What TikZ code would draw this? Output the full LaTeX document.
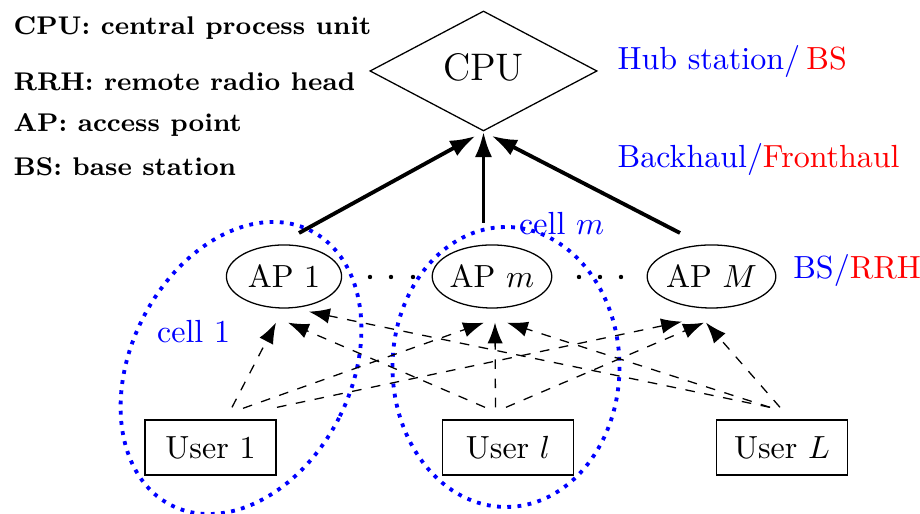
\documentclass[tikz,border=0pt]{standalone}
\usepackage{fontspec}
\usetikzlibrary{shapes.geometric,arrows.meta}
\begin{document}
\begin{tikzpicture}[x=0.3125pt,y=-0.3125pt,
  apnode/.style={draw,ellipse,minimum width=36pt,minimum height=19.7pt,inner sep=0pt},
  usernode/.style={draw,rectangle,minimum width=41pt,minimum height=17.2pt,inner sep=0pt},
  cpunode/.style={draw,diamond,aspect=1.9,minimum width=71pt,minimum height=37.5pt,inner sep=0pt,text depth=2.6pt},
  thickarrow/.style={very thick,-{Latex[length=8pt,width=5.4pt]}},
  dasharrow/.style={dashed,-{Latex[length=6.5pt,width=4.8pt]}},
  cellring/.style={blue,very thick,dotted},
  lbl/.style={inner sep=0pt,anchor=base west},
  legend/.style={inner sep=0pt,anchor=base west,font=\fontsize{8}{10}\selectfont\bfseries},
  dotmark/.style={fill=black}
]
\useasboundingbox (0,0) rectangle (920,514);

% legend
\node[legend] (lg1) at (13,35) {CPU: central process unit};
\node[legend] (lg2) at (13,91) {RRH: remote radio head};
\node[legend] (lg3) at (13,132) {AP: access point};
\node[legend] (lg4) at (13,176) {BS: base station};

% cells
\draw[cellring,rotate around={-27:(241,368)}] (241,368) ellipse [x radius=110,y radius=154];
\draw[cellring] (506,367) ellipse [x radius=113.5,y radius=140];

% nodes
\node[cpunode] (cpu) at (483.5,71) {\large CPU};
\node[apnode] (ap1) at (284,276.5) {AP 1};
\node[apnode] (apm) at (492,276.5) {AP $m$};
\node[apnode] (apM) at (711.5,276.5) {AP $M$};
\node[usernode] (u1) at (210.5,447.5) {User 1};
\node[usernode] (ul) at (508,447.5) {User $l$};
\node[usernode] (uL) at (782,447.5) {User $L$};

% dots
\fill[dotmark] (370,277) circle (2.2);
\fill[dotmark] (391,277) circle (2.2);
\fill[dotmark] (413,277) circle (2.2);
\fill[dotmark] (579,277) circle (2.2);
\fill[dotmark] (600,277) circle (2.2);
\fill[dotmark] (621,277) circle (2.2);

% labels
\node[lbl,blue] (cell1) at (156.5,343) {cell 1};
\node[lbl,blue] (cellm) at (518.6,234.3) {cell $m$};
\node[lbl] (hub) at (617,69.3) {\textcolor{blue}{Hub station/}\kern2pt\textcolor{red}{BS}};
\node[lbl] (bh) at (617,167.3) {\textcolor{blue}{Backhaul/}\textcolor{red}{Fronthaul}};
\node[lbl] (bsrrh) at (792.7,278.3) {\textcolor{blue}{BS/}\textcolor{red}{RRH}};

% backhaul arrows
\coordinate (t1) at (299,233);
\coordinate (tm) at (483.5,223);
\coordinate (tM) at (680,233);
\draw[thickarrow,shorten >=2.8pt] (t1) -- (cpu.south);
\draw[thickarrow] (tm) -- (cpu.south);
\draw[thickarrow,shorten >=2.8pt] (tM) -- (cpu.south);

% access links
\draw[dasharrow] ([shift={(21.5,-12)}]u1.north) -- ([shift={(-8,14)}]ap1.south);
\draw[dasharrow] ([shift={(32.5,-11)}]u1.north) -- ([shift={(-8,14)}]apm.south);
\draw[dasharrow] ([shift={(66.5,-12)}]u1.north) -- ([shift={(-29.5,13)}]apM.south);
\draw[dasharrow] ([shift={(-23,-12)}]ul.north) -- ([shift={(4,14)}]ap1.south);
\draw[dasharrow] ([shift={(-12.5,-12)}]ul.north) -- ([shift={(3,14)}]apm.south);
\draw[dasharrow] ([shift={(-2,-12)}]ul.north) -- ([shift={(-7.5,14)}]apM.south);
\draw[dasharrow] ([shift={(-12,-12)}]uL.north) -- ([shift={(25,3)}]ap1.south);
\draw[dasharrow] ([shift={(-12,-12)}]uL.north) -- ([shift={(15,14)}]apm.south);
\draw[dasharrow] ([shift={(-2,-12)}]uL.north) -- ([shift={(-5.5,14)}]apM.south);
\end{tikzpicture}
\end{document}
